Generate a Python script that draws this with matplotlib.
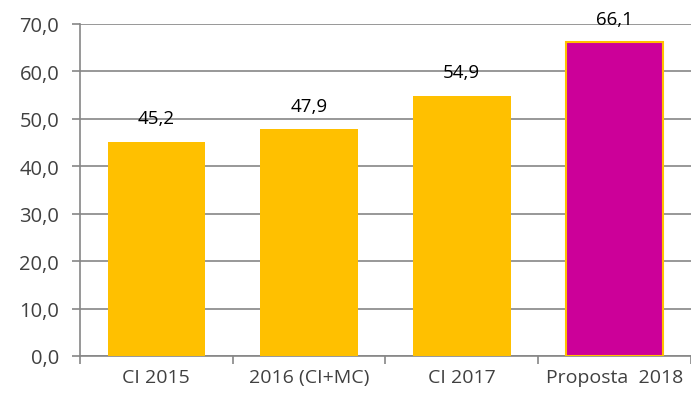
import matplotlib.pyplot as plt
import numpy as np

categories = ["CI 2015", "2016 (CI+MC)", "CI 2017", "Proposta  2018"]
values = [45.2, 47.9, 54.9, 66.1]
colors = ["#FFC000", "#FFC000", "#FFC000", "#CC0099"]

plt.rcParams['font.family'] = ['Open Sans', 'DejaVu Sans']

fig = plt.figure(figsize=(6.91, 4.02), dpi=100)
ax = fig.add_axes([0.1158, 0.112, 0.884, 0.826])

x = np.arange(len(categories))
ax.bar(x, values, width=0.64, color=colors, edgecolor=["none", "none", "none", "#FFC000"],
       linewidth=1.5, zorder=3)

for xi, v in zip(x, values):
    ax.text(xi, v + 3.0, f"{v:.1f}".replace(".", ","), ha="center", va="bottom",
            fontsize=13.5, color="black")

ax.set_xlim(-0.5, 3.5)
ax.set_ylim(0, 70)
ax.set_yticks(np.arange(0, 71, 10))
ax.set_yticklabels([f"{t:.1f}".replace(".", ",") for t in np.arange(0, 71, 10)],
                   fontsize=14.5, color="#404040")
ax.yaxis.grid(True, color="#868686", linewidth=1.2, zorder=0)

ax.set_xticks(np.arange(-0.5, 3.6, 1.0))
ax.set_xticklabels([])
ax.set_xticks(x, minor=True)
ax.set_xticklabels(categories, minor=True, fontsize=14, color="#404040")
ax.tick_params(axis="x", which="major", length=6, color="#868686", width=1.2)
ax.tick_params(axis="x", which="minor", length=0, pad=9)
ax.tick_params(axis="y", length=6, color="#868686", width=1.2, pad=9)

for s in ["top", "right"]:
    ax.spines[s].set_visible(False)
for s in ["left", "bottom"]:
    ax.spines[s].set_color("#868686")
    ax.spines[s].set_linewidth(1.2)

fig.savefig("out.png", dpi=100)
